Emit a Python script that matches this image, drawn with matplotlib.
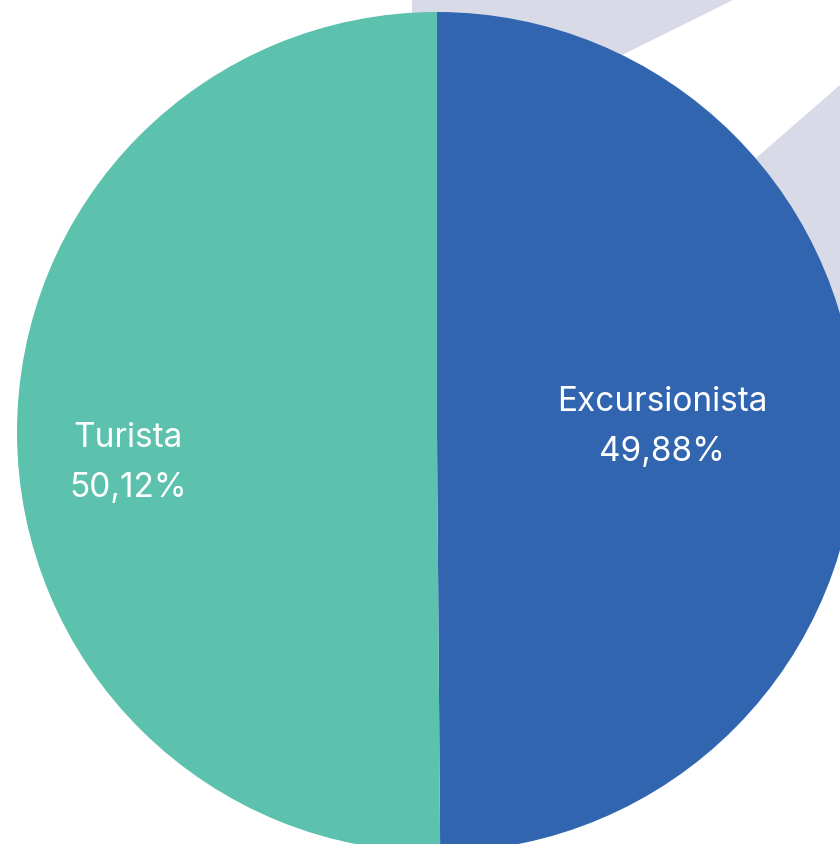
import numpy as np
import matplotlib
matplotlib.use("Agg")
import matplotlib.pyplot as plt

labels = ["Excursionista", "Turista"]
values = [49.88, 50.12]
pct_text = ["49,88%", "50,12%"]
colors = ["#3265af", "#5cc1ad"]
# label centre offsets, as fractions of the radius
label_off = [(0.536, 0.012), (-0.736, -0.074)]

W, H = 840, 844
fig = plt.figure(figsize=(W / 100, H / 100), dpi=100)
ax = fig.add_axes([0, 0, 1, 1])

# background decoration (pixel coords, y measured from top)
grey = [(412, 0), (840, 0), (840, 500), (412, 500)]
white = [(733, 0), (840, 0), (840, 85), (740, 172), (600, 66)]
for poly, c in [(grey, "#d8dae7"), (white, "white")]:
    xs = [p[0] for p in poly]
    ys = [H - p[1] for p in poly]
    ax.fill(xs, ys, color=c, lw=0, zorder=0)

cx, cy, r = 437, H - 432, 420
wedges, _ = ax.pie(values, colors=colors, startangle=90, counterclock=False,
                   center=(cx, cy), radius=r, frame=True,
                   wedgeprops=dict(linewidth=0))
for w in wedges:
    w.set_zorder(1)

for lab, pct, (dx, dy) in zip(labels, pct_text, label_off):
    ax.text(cx + dx * r, cy + dy * r, lab + "\n" + pct, color="white",
            fontsize=24, family="Inter", ha="center", va="center",
            linespacing=1.7, zorder=3)

ax.set_xlim(0, W)
ax.set_ylim(0, H)
ax.set_aspect("equal")
ax.axis("off")
fig.savefig("out.png", dpi=100, facecolor="white")
